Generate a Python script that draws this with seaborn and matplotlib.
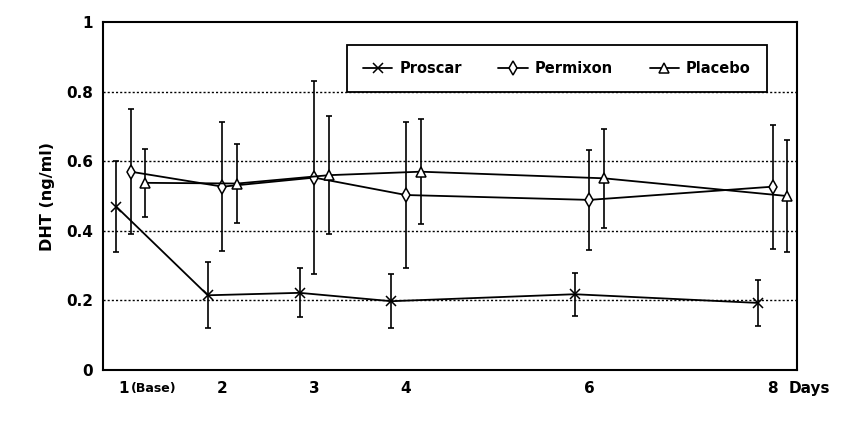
import matplotlib

matplotlib.use("Agg")
import matplotlib.pyplot as plt
from matplotlib.lines import Line2D
import pandas as pd
import seaborn as sns

# visit days and the three treatment groups
days = [1, 2, 3, 4, 6, 8]
day_labels = ["", "2", "3", "4", "6", "8"]
groups = ["Proscar", "Permixon", "Placebo"]

# mean DHT (ng/ml) and error bar half-widths
proscar_mean = [0.47, 0.215, 0.222, 0.198, 0.218, 0.193]
proscar_err = [0.13, 0.095, 0.07, 0.078, 0.062, 0.065]
permixon_mean = [0.57, 0.527, 0.553, 0.503, 0.489, 0.527]
permixon_err = [0.18, 0.185, 0.277, 0.21, 0.143, 0.178]
placebo_mean = [0.538, 0.536, 0.56, 0.57, 0.551, 0.50]
placebo_err = [0.098, 0.114, 0.17, 0.15, 0.142, 0.162]

y_ticks = [0, 0.2, 0.4, 0.6, 0.8, 1]
y_tick_labels = ["0", "0.2", "0.4", "0.6", "0.8", "1"]


def main():
    sns.set_style("white")
    plt.rcParams["font.family"] = ["DejaVu Sans"]
    plt.rcParams["font.weight"] = "bold"
    plt.rcParams["text.color"] = "black"
    plt.rcParams["axes.labelcolor"] = "black"

    rows = []
    for g, means, errs in zip(
        groups,
        [proscar_mean, permixon_mean, placebo_mean],
        [proscar_err, permixon_err, placebo_err],
    ):
        for d, m, e in zip(days, means, errs):
            rows.append({"group": g, "day": d, "mean": m, "err": e})
    df = pd.DataFrame(rows)

    # small horizontal dodge so the error bars don't overlap
    dodge = {"Proscar": -0.16, "Permixon": 0.0, "Placebo": 0.16}
    df["xpos"] = df["day"] + df["group"].map(dodge)

    markers = {"Proscar": "x", "Permixon": "d", "Placebo": "^"}

    fig = plt.figure(figsize=(8.64, 4.23), dpi=100)
    ax = fig.add_axes([0.119, 0.125, 0.803, 0.823])

    # dotted horizontal grid
    for yv in [0.2, 0.4, 0.6, 0.8]:
        ax.axhline(yv, color="black", linestyle=(0, (1.5, 1.5)), linewidth=1.0, zorder=1)

    ax.errorbar(
        df["xpos"], df["mean"], yerr=df["err"], fmt="none",
        ecolor="black", elinewidth=1.2, capsize=2.5, capthick=1.2, zorder=2,
    )

    for g in groups:
        sub = df[df["group"] == g]
        sns.lineplot(
            data=sub, x="xpos", y="mean", color="black",
            marker=markers[g], markersize=7, markerfacecolor="white",
            markeredgecolor="black", markeredgewidth=1.1, linewidth=1.3,
            legend=False, ax=ax, zorder=3,
        )

    ax.set_xlim(0.695, 8.26)
    ax.set_ylim(0, 1)
    ax.set_xticks(days)
    ax.set_xticklabels(day_labels, fontsize=11, fontweight="bold")
    ax.set_yticks(y_ticks)
    ax.set_yticklabels(y_tick_labels, fontsize=11, fontweight="bold")
    ax.tick_params(axis="x", direction="in", length=6, width=1.3, pad=8,
                   color="black", labelcolor="black")
    ax.tick_params(axis="y", length=0, pad=7, labelcolor="black")
    ax.set_xlabel("")
    ax.set_ylabel("DHT (ng/ml)", fontsize=11.5, fontweight="bold", labelpad=8,
                  color="black")
    for sp in ax.spines.values():
        sp.set_color("black")
        sp.set_linewidth(1.5)

    trans = ax.get_xaxis_transform()
    ax.text(0.98, -0.052, "1", transform=trans, ha="right", va="center",
            fontsize=11, fontweight="bold", color="black")
    ax.text(1.0, -0.052, "(Base)", transform=trans, ha="left", va="center",
            fontsize=9, fontweight="bold", color="black")
    ax.text(0.988, -0.052, "Days", transform=ax.transAxes, ha="left", va="center",
            fontsize=11, fontweight="bold", color="black")

    handles = [
        Line2D([], [], color="black", marker=markers[g], markersize=7,
               markerfacecolor="white", markeredgecolor="black",
               markeredgewidth=1.1, linewidth=1.3)
        for g in groups
    ]
    leg = ax.legend(
        handles, groups, loc="upper left", ncol=3,
        bbox_to_anchor=(0.352, 0.934),
        frameon=True, fancybox=False, handlelength=2.0, handletextpad=0.5,
        columnspacing=2.5, borderpad=1.1,
        prop={"weight": "bold", "size": 10.5}, borderaxespad=0,
    )
    for t in leg.get_texts():
        t.set_color("black")
    leg.get_frame().set_edgecolor("black")
    leg.get_frame().set_linewidth(1.3)
    leg.get_frame().set_alpha(1)

    plt.savefig("out.png", dpi=100)


if __name__ == "__main__":
    main()
